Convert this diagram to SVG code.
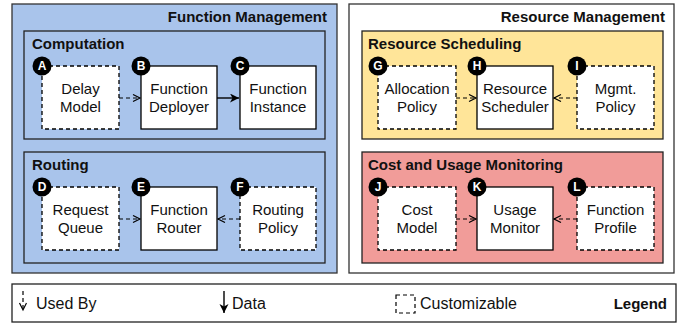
<svg xmlns="http://www.w3.org/2000/svg" width="683" height="327" viewBox="0 0 683 327">
<defs>
<marker id="open" markerWidth="10" markerHeight="10" refX="8" refY="4" orient="auto" markerUnits="userSpaceOnUse">
<path d="M1,0.5 L8,4 L1,7.5" fill="none" stroke="#000" stroke-width="1.2"/>
</marker>
<marker id="solid" markerWidth="12" markerHeight="12" refX="9" refY="4.5" orient="auto" markerUnits="userSpaceOnUse">
<path d="M0,0 L9,4.5 L0,9 L2.5,4.5 Z" fill="#000"/>
</marker>
</defs>
<style>
.outer{stroke:#333;stroke-width:1.3}
.grp{stroke:#222;stroke-width:1.3}
.node{fill:#fff;stroke:#000;stroke-width:1.3}
.dash{stroke-dasharray:4,3}
.t{font-family:"Liberation Sans",Arial,sans-serif;font-size:15px;fill:#111;text-anchor:middle}
.h{font-family:"Liberation Sans",Arial,sans-serif;font-size:15px;font-weight:bold;fill:#111}
.b{fill:#000}
.bl{font-family:"Liberation Sans",Arial,sans-serif;font-size:12px;font-weight:bold;fill:#fff;text-anchor:middle}
.used{stroke:#000;stroke-width:1.2;stroke-dasharray:4,3;fill:none}
.data{stroke:#000;stroke-width:1.4;fill:none}
.lg{font-family:"Liberation Sans",Arial,sans-serif;font-size:16px;fill:#111}
</style>

<g id="function-management">
<rect class="outer" x="12" y="4" width="325" height="269" fill="#A9C4EB"/>
<text class="h" x="327" y="22" text-anchor="end">Function Management</text>
</g>
<g id="computation">
<rect class="grp" x="24" y="31" width="301" height="108" fill="#A9C4EB"/>
<text class="h" x="32" y="49">Computation</text>
</g>
<g id="routing">
<rect class="grp" x="24" y="152" width="301" height="111" fill="#A9C4EB"/>
<text class="h" x="32" y="170">Routing</text>
</g>
<g id="resource-management">
<rect class="outer" x="349" y="4" width="325" height="269" fill="#fff"/>
<text class="h" x="665" y="22" text-anchor="end">Resource Management</text>
</g>
<g id="resource-scheduling">
<rect class="grp" x="362" y="31" width="301" height="108" fill="#FFE599"/>
<text class="h" x="368" y="49">Resource Scheduling</text>
</g>
<g id="cost-usage">
<rect class="grp" x="362" y="152" width="301" height="111" fill="#F19C99"/>
<text class="h" x="368" y="170">Cost and Usage Monitoring</text>
</g>

<g id="connectors">
<line class="used" x1="119" y1="98" x2="140" y2="98" marker-end="url(#open)"/>
<line class="data" x1="217" y1="98" x2="239" y2="98" marker-end="url(#solid)"/>
<line class="used" x1="119" y1="219" x2="140" y2="219" marker-end="url(#open)"/>
<line class="used" x1="240" y1="219" x2="218" y2="219" marker-end="url(#open)"/>
<line class="used" x1="456" y1="98" x2="476" y2="98" marker-end="url(#open)"/>
<line class="used" x1="577" y1="98" x2="554" y2="98" marker-end="url(#open)"/>
<line class="used" x1="456" y1="219" x2="476" y2="219" marker-end="url(#open)"/>
<line class="used" x1="577" y1="219" x2="554" y2="219" marker-end="url(#open)"/>
</g>

<g id="node-a">
<rect class="node dash" x="42" y="66" width="77" height="63"/>
<text class="t" x="80.5" y="94">Delay</text><text class="t" x="80.5" y="111.5">Model</text>
<circle class="b" cx="42" cy="66" r="9.5"/><text class="bl" x="42" y="70.3">A</text>
</g>
<g id="node-b">
<rect class="node" x="141" y="66" width="76" height="63"/>
<text class="t" x="179" y="94">Function</text><text class="t" x="179" y="111.5">Deployer</text>
<circle class="b" cx="141" cy="66" r="9.5"/><text class="bl" x="141" y="70.3">B</text>
</g>
<g id="node-c">
<rect class="node" x="240" y="66" width="76" height="63"/>
<text class="t" x="278" y="94">Function</text><text class="t" x="278" y="111.5">Instance</text>
<circle class="b" cx="240" cy="66" r="9.5"/><text class="bl" x="240" y="70.3">C</text>
</g>
<g id="node-d">
<rect class="node dash" x="42" y="187" width="77" height="63"/>
<text class="t" x="80.5" y="215">Request</text><text class="t" x="80.5" y="232.5">Queue</text>
<circle class="b" cx="42" cy="187" r="9.5"/><text class="bl" x="42" y="191.3">D</text>
</g>
<g id="node-e">
<rect class="node" x="141" y="187" width="76" height="63"/>
<text class="t" x="179" y="215">Function</text><text class="t" x="179" y="232.5">Router</text>
<circle class="b" cx="141" cy="187" r="9.5"/><text class="bl" x="141" y="191.3">E</text>
</g>
<g id="node-f">
<rect class="node dash" x="240" y="187" width="76" height="63"/>
<text class="t" x="278" y="215">Routing</text><text class="t" x="278" y="232.5">Policy</text>
<circle class="b" cx="240" cy="187" r="9.5"/><text class="bl" x="240" y="191.3">F</text>
</g>
<g id="node-g">
<rect class="node dash" x="378" y="66" width="78" height="63"/>
<text class="t" x="417" y="94">Allocation</text><text class="t" x="417" y="111.5">Policy</text>
<circle class="b" cx="378" cy="66" r="9.5"/><text class="bl" x="378" y="70.3">G</text>
</g>
<g id="node-h">
<rect class="node" x="477" y="66" width="76" height="63"/>
<text class="t" x="515" y="94">Resource</text><text class="t" x="515" y="111.5">Scheduler</text>
<circle class="b" cx="477" cy="66" r="9.5"/><text class="bl" x="477" y="70.3">H</text>
</g>
<g id="node-i">
<rect class="node dash" x="577" y="66" width="77" height="63"/>
<text class="t" x="615.5" y="94">Mgmt.</text><text class="t" x="615.5" y="111.5">Policy</text>
<circle class="b" cx="577" cy="66" r="9.5"/><text class="bl" x="577" y="70.3">I</text>
</g>
<g id="node-j">
<rect class="node dash" x="378" y="187" width="78" height="63"/>
<text class="t" x="417" y="215">Cost</text><text class="t" x="417" y="232.5">Model</text>
<circle class="b" cx="378" cy="187" r="9.5"/><text class="bl" x="378" y="191.3">J</text>
</g>
<g id="node-k">
<rect class="node" x="477" y="187" width="76" height="63"/>
<text class="t" x="515" y="215">Usage</text><text class="t" x="515" y="232.5">Monitor</text>
<circle class="b" cx="477" cy="187" r="9.5"/><text class="bl" x="477" y="191.3">K</text>
</g>
<g id="node-l">
<rect class="node dash" x="577" y="187" width="77" height="63"/>
<text class="t" x="615.5" y="215">Function</text><text class="t" x="615.5" y="232.5">Profile</text>
<circle class="b" cx="577" cy="187" r="9.5"/><text class="bl" x="577" y="191.3">L</text>
</g>

<g id="legend">
<rect x="12" y="284" width="664" height="38" fill="#fff" stroke="#222" stroke-width="1.3"/>
<line class="used" x1="23" y1="291" x2="23" y2="310" marker-end="url(#open)"/>
<text class="lg" x="36" y="309">Used By</text>
<line class="data" x1="224" y1="291" x2="224" y2="313" marker-end="url(#solid)"/>
<text class="lg" x="232" y="309">Data</text>
<rect x="396" y="295" width="19" height="18" fill="none" stroke="#000" stroke-width="1.2" stroke-dasharray="4,3"/>
<text class="lg" x="420" y="309">Customizable</text>
<text class="h" x="667" y="309" text-anchor="end">Legend</text>
</g>
</svg>
